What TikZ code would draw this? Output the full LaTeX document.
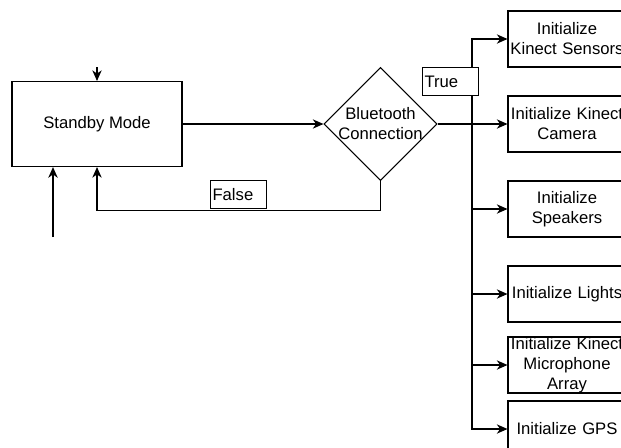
\documentclass[tikz,border=0pt]{standalone}
\usepackage{fontspec}
\setmainfont{Liberation Sans}
\usetikzlibrary{arrows.meta, shapes.geometric}

\begin{document}
\begin{tikzpicture}[x=0.75pt, y=-0.75pt,
		font=\fontsize{12.5}{15}\selectfont,
		flow/.style={line width=0.8pt, -{Stealth[length=8pt, width=7pt, inset=2.5pt]}},
		mode/.style={draw, rectangle, line width=0.8pt, minimum width=127.5pt, minimum height=63.75pt},
		decision/.style={draw, diamond, line width=0.8pt, aspect=1, inner sep=0pt, minimum width=84.75pt, minimum height=84.75pt},
		task/.style={draw, rectangle, line width=0.8pt, inner sep=0pt, text width=88.5pt, align=center, minimum height=42pt},
		tag/.style={draw, rectangle, fill=white, line width=0.8pt, inner sep=1.5pt, text width=39pt, align=left, minimum height=21pt}]
				\useasboundingbox (0, 0) rectangle (621, 447);
				\clip (0, 0) rectangle (621, 447);
				\coordinate (TOP) at (97, 67);
				\coordinate (ENTRY) at (53, 237);
				\coordinate (SPLIT) at (472, 124);
				\node[mode] (standby)at(97, 124) {Standby Mode};
				\node[decision, label={[align=center]center:Bluetooth\\Connection}] (bt)at(380.5, 124) {};
				\node[task] (sensors)at(567, 39) {Initialize\\Kinect Sensors};
				\node[task] (camera)at(567, 124) {Initialize Kinect\\Camera};
				\node[task] (speakers)at(567, 209) {Initialize\\Speakers};
				\node[task] (lights)at(567, 294) {Initialize Lights};
				\node[task] (mic)at(567, 365) {Initialize Kinect\\Microphone\\Array};
				\node[task] (gps)at(567, 429) {Initialize GPS};
				\draw[flow] (TOP) -- (standby.north);
				\draw[flow, line width=1.8pt] (ENTRY) -- (ENTRY |- standby.south);
				\draw[flow] (standby) -- (bt);
				\draw[flow] (bt.south) -- ++(0, 29) -| (standby.south);
				\draw[flow] (bt) -- (camera);
				\draw[flow] (SPLIT) |- (sensors.west);
				\draw[flow] (SPLIT) |- (speakers.west);
				\draw[flow] (SPLIT) |- (lights.west);
				\draw[flow] (SPLIT) |- (mic.west);
				\draw[flow] (SPLIT) |- (gps.west);
				\node[tag, anchor=south west] (false)at(210, 209) {False};
				\node[tag] (true)at(450.5, 81.5) {True};
			\end{tikzpicture}
\end{document}
